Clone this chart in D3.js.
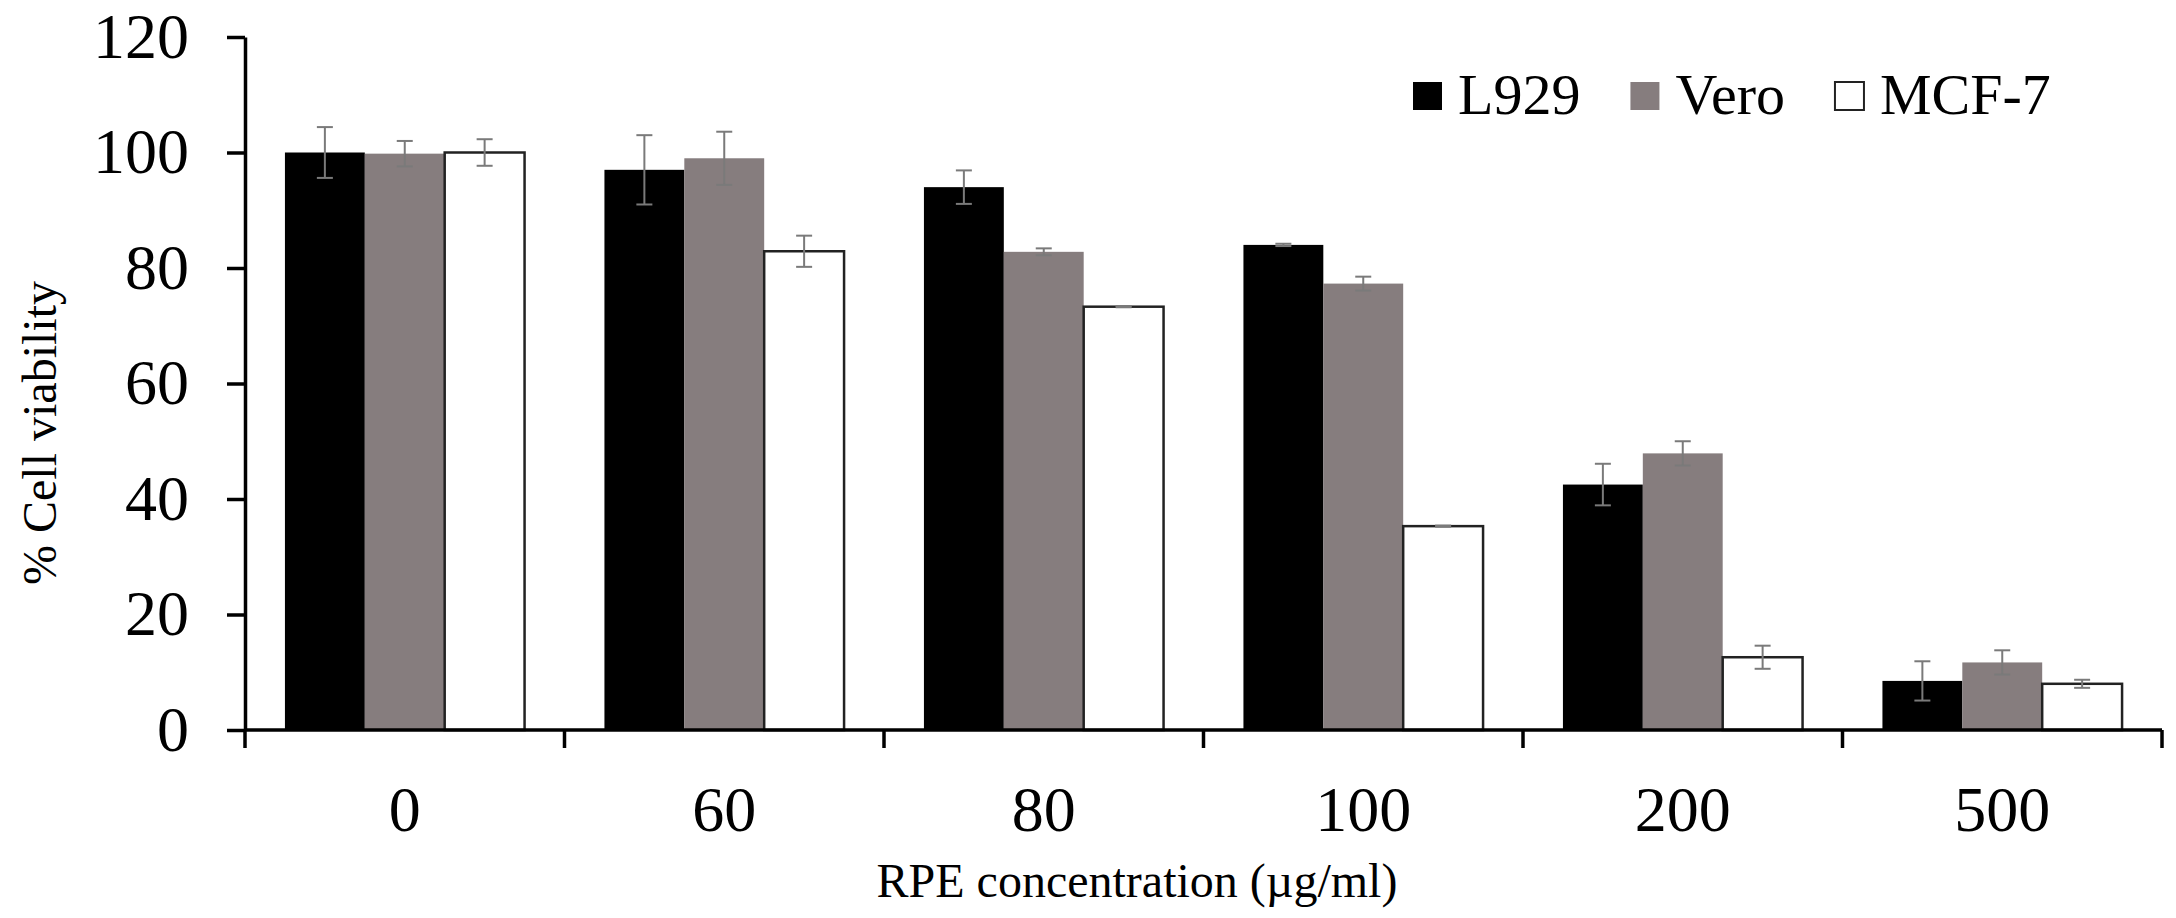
<!DOCTYPE html>
<html>
<head>
<meta charset="utf-8">
<script src="https://cdn.jsdelivr.net/npm/d3@7"></script>
<style>
  body { margin: 0; background: #fff; }
  text { font-family: "Liberation Serif", "Times New Roman", serif; fill: #000; }
</style>
</head>
<body>
<script>
// data
var concentrations = ['0', '60', '80', '100', '200', '500'];
var cellLines = ['L929', 'Vero', 'MCF-7'];
var l929 = [100, 97, 94, 84, 42.5, 8.5];
var l929Err = [4.4, 6, 2.9, 0.2, 3.6, 3.4];
var vero = [99.8, 99, 82.8, 77.3, 47.9, 11.7];
var veroErr = [2.2, 4.6, 0.6, 1.2, 2.1, 2.1];
var mcf7 = [100, 82.9, 73.3, 35.3, 12.6, 8.0];
var mcf7Err = [2.3, 2.7, 0.1, 0.1, 2.0, 0.7];
var yTicks = [0, 20, 40, 60, 80, 100, 120];

var values = [l929, vero, mcf7];
var errors = [l929Err, veroErr, mcf7Err];
var fills = ['#000000', '#867d7e', '#ffffff'];

var screen = { width: 2176, height: 918 };
var margins = { top: 37, left: 245, bottom: 188, right: 14 };
var width = screen.width - margins.left - margins.right;
var height = screen.height - margins.top - margins.bottom;

var svg = d3.select('body')
            .append('svg')
            .attr('width', screen.width)
            .attr('height', screen.height);

var xScale = d3.scaleBand()
               .domain(concentrations)
               .range([0, width])
               .padding(0);

var seriesScale = d3.scaleBand()
                    .domain(cellLines)
                    .range([0, xScale.bandwidth()])
                    .paddingInner(0)
                    .paddingOuter(0.5);

var yScale = d3.scaleLinear()
               .domain([0, 120])
               .range([height, 0]);

var plot = svg.append('g')
              .attr('transform', 'translate(' + margins.left + ',' + margins.top + ')');

// rows: one per bar
var rows = [];
cellLines.forEach(function(line, s){
  concentrations.forEach(function(c, i){
    rows.push({ line: line, s: s, conc: c, value: values[s][i], err: errors[s][i] });
  });
});

plot.selectAll('rect.bar')
    .data(rows)
    .enter()
    .append('rect')
    .classed('bar', true)
    .attr('x', function(d){ return xScale(d.conc) + seriesScale(d.line); })
    .attr('y', function(d){ return yScale(d.value); })
    .attr('width', seriesScale.bandwidth())
    .attr('height', function(d){ return height - yScale(d.value); })
    .attr('fill', function(d){ return fills[d.s]; })
    .attr('stroke', function(d){ return d.s == 2 ? '#222' : 'none'; })
    .attr('stroke-width', 2.5);

// error bars
var errG = plot.selectAll('g.err')
               .data(rows)
               .enter()
               .append('g')
               .classed('err', true)
               .attr('stroke', '#7a7a7a')
               .attr('stroke-width', 2);
var cx = function(d){ return xScale(d.conc) + seriesScale(d.line) + seriesScale.bandwidth()/2; };
errG.append('line')
    .attr('x1', cx).attr('x2', cx)
    .attr('y1', function(d){ return yScale(d.value + d.err); })
    .attr('y2', function(d){ return yScale(d.value - d.err); });
errG.append('line')
    .attr('x1', function(d){ return cx(d) - 8; }).attr('x2', function(d){ return cx(d) + 8; })
    .attr('y1', function(d){ return yScale(d.value + d.err); })
    .attr('y2', function(d){ return yScale(d.value + d.err); });
errG.append('line')
    .attr('x1', function(d){ return cx(d) - 8; }).attr('x2', function(d){ return cx(d) + 8; })
    .attr('y1', function(d){ return yScale(d.value - d.err); })
    .attr('y2', function(d){ return yScale(d.value - d.err); });

// y axis
var yAxis = plot.append('g')
                .call(d3.axisLeft(yScale).tickValues(yTicks).tickSize(18).tickPadding(38).tickSizeOuter(0));
yAxis.select('.domain').attr('stroke-width', 3.5);
yAxis.selectAll('.tick line').attr('stroke-width', 3.5);
yAxis.selectAll('.tick text')
     .style('font-size', '64px')
     .style('font-family', '"Liberation Serif", serif');

// x axis: ticks at category boundaries
var boundaries = concentrations.map(function(c){ return xScale(c); }).concat([width]);
var xAxisG = plot.append('g').attr('transform', 'translate(0,' + height + ')');
xAxisG.append('line')
      .attr('x1', 0).attr('x2', width)
      .attr('y1', 0).attr('y2', 0)
      .attr('stroke', '#000').attr('stroke-width', 3.5);
xAxisG.selectAll('line.tk')
      .data(boundaries)
      .enter()
      .append('line')
      .classed('tk', true)
      .attr('x1', function(d){ return d; }).attr('x2', function(d){ return d; })
      .attr('y1', 0).attr('y2', 18)
      .attr('stroke', '#000').attr('stroke-width', 3.5);
xAxisG.selectAll('text')
      .data(concentrations)
      .enter()
      .append('text')
      .attr('x', function(d){ return xScale(d) + xScale.bandwidth()/2; })
      .attr('y', 101)
      .attr('text-anchor', 'middle')
      .style('font-size', '64px')
      .text(function(d){ return d; });

// axis titles
svg.append('text')
   .attr('x', 1137)
   .attr('y', 897)
   .attr('text-anchor', 'middle')
   .style('font-size', '48px')
   .text('RPE concentration (µg/ml)');

svg.append('text')
   .attr('transform', 'translate(56,433) rotate(-90)')
   .attr('text-anchor', 'middle')
   .style('font-size', '48px')
   .text('% Cell viability');

// legend
var legend = svg.append('g').attr('transform', 'translate(1413,82)');
var lx = 0;
cellLines.forEach(function(line, s){
  var item = legend.append('g').attr('transform', 'translate(' + lx + ',0)');
  item.append('rect')
      .attr('x', 0).attr('y', 0)
      .attr('width', 29).attr('height', 28)
      .attr('fill', fills[s])
      .attr('stroke', s == 2 ? '#222' : 'none')
      .attr('stroke-width', 2);
  var t = item.append('text')
              .attr('x', 45).attr('y', 32)
              .style('font-size', '58px')
              .text(line);
  lx += 45 + t.node().getComputedTextLength() + 50;
});
</script>
</body>
</html>
